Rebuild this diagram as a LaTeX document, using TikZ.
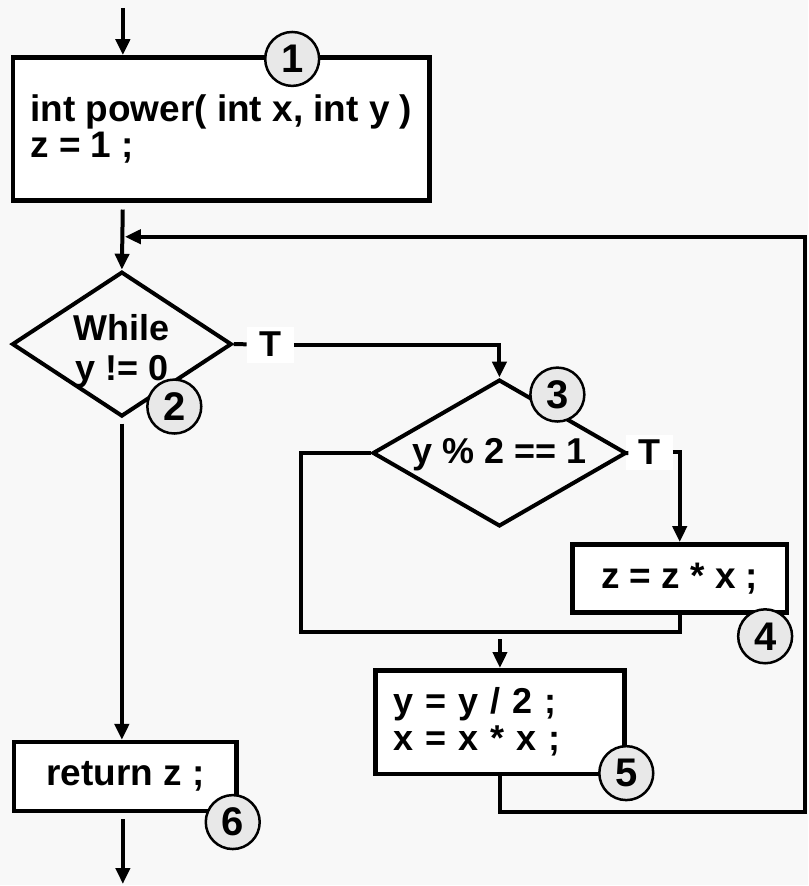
\documentclass[tikz,border=0pt]{standalone}
\usepackage{fontspec}
\setmainfont{Liberation Sans}
\usetikzlibrary{positioning, arrows.meta, shapes.geometric}
\definecolor{bgc}{RGB}{248,248,248}
\definecolor{numfill}{RGB}{232,232,232}

\begin{document}
\begin{tikzpicture}[x=1pt, y=-1pt,
  blk/.style={draw, fill=white, line width=4.5pt, inner sep=0pt,
              font=\fontsize{37}{36}\selectfont\bfseries},
  dec/.style={diamond, draw, line width=4pt, inner sep=0pt},
  dtxt/.style={align=center, inner sep=0pt, font=\fontsize{36}{40}\selectfont\bfseries},
  num/.style={circle, draw, fill=numfill, line width=2.5pt, minimum size=54pt,
              inner sep=0pt, font=\fontsize{40}{40}\selectfont\bfseries},
  lbl/.style={fill=white, minimum width=47pt, minimum height=36pt, inner sep=0pt,
              font=\fontsize{36}{36}\selectfont\bfseries},
  flow/.style={line width=4pt, -{Triangle[length=16pt, width=14pt]}},
  link/.style={line width=4pt},
]
  \fill[bgc] (0,0) rectangle (809,886);

  % boxes and decisions
  \node[blk, minimum width=417pt, minimum height=143pt, align=left] (b1) at (221.5,129)
    {int power( int x, int y )\\z = 1 ;};
  \node[dec, minimum width=220pt, minimum height=145pt] (d2) at (122,344.5) {};
  \node[dtxt] (w2) at ([yshift=-7pt]d2.center) {While\\y != 0};
  \node[dec, minimum width=254pt, minimum height=147pt] (d3) at (500,453.5) {};
  \node[dtxt] (w3) at ([yshift=-2pt]d3.center) {y \% 2 == 1};
  \node[blk, minimum width=215pt, minimum height=68pt] (b4) at (680.5,579) {z = z * x ;};
  \node[blk, minimum width=249pt, minimum height=104pt, text width=213pt, align=left,
        font=\fontsize{36}{37}\selectfont\bfseries] (b5) at (500.5,723)
    {y = y / 2 ;\\x = x * x ;};
  \node[blk, minimum width=223pt, minimum height=69pt] (b6) at (125.5,777.5) {return z ;};

  \node[lbl] (t1) at (270.5,345) {T};
  \node[lbl] (t2) at (650,453) {T};

  \coordinate (s0) at (123,8);
  \coordinate (s6) at (123,885);
  \coordinate (rt) at (806,813);
  \coordinate (rj) at (125,237);
  \coordinate (j1) at (301,633);
  \coordinate (j2) at (500.5,640);

  % connectors
  \draw[flow] (s0) -- (s0 |- b1.north);
  \draw[flow, shorten <=7pt] (s0 |- b1.south) -- (d2.north);
  \draw[link] (d2.east) -- (t1);
  \draw[flow] (t1) -| (d3.north);
  \draw[link] (d3.east) -- (t2);
  \draw[flow] (t2) -| (b4.north);
  \draw[link] (b4.south) |- (j1) |- (d3.west);
  \draw[flow] (j2) -- (b5.north);
  \draw[flow] (b5.south) |- (rt) |- (rj);
  \draw[flow, shorten <=5pt] (d2.south) -- (d2.south |- b6.north);
  \draw[flow, shorten <=6pt] (s6 |- b6.south) -- (s6);

  % node numbers
  \node[num] (n1) at (292.5,59) {1};
  \node[num] (n2) at (174.5,407) {2};
  \node[num] (n3) at (558,395) {3};
  \node[num] (n4) at (766,637) {4};
  \node[num] (n5) at (627,774) {5};
  \node[num] (n6) at (233,823) {6};
\end{tikzpicture}
\end{document}
